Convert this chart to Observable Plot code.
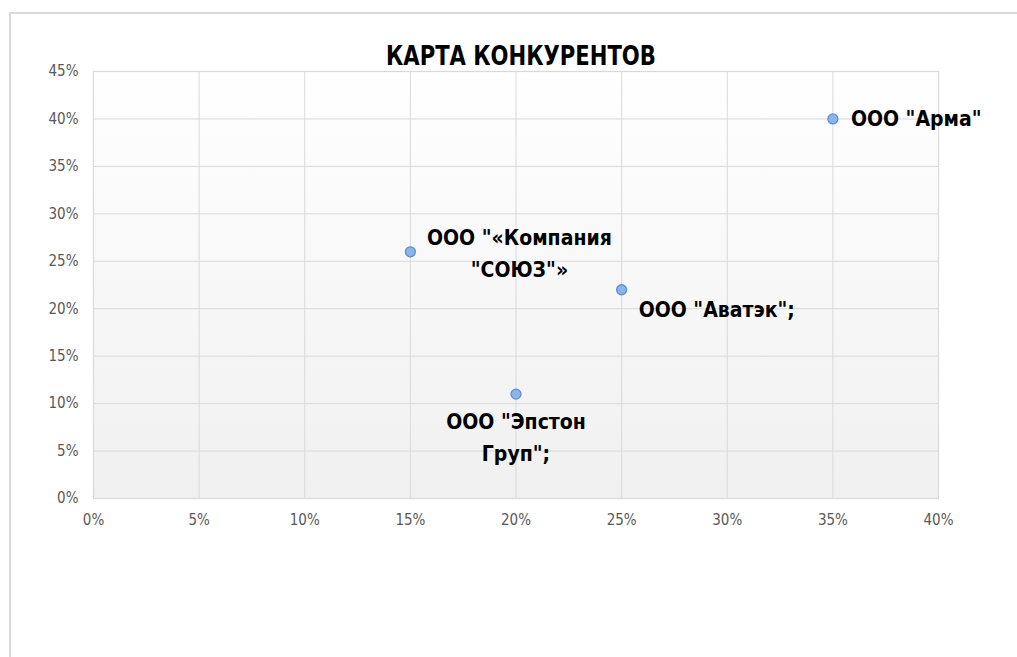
<!DOCTYPE html>
<html><head><meta charset="utf-8">
<script src="https://cdn.jsdelivr.net/npm/d3@7"></script>
<script src="https://cdn.jsdelivr.net/npm/@observablehq/plot@0.6"></script>
<style>
body{margin:0;background:#fff;overflow:hidden;}
#wrap{position:relative;width:1017px;height:657px;overflow:hidden;}
#border{position:absolute;left:9px;top:12px;right:-10px;bottom:-10px;border-left:2px solid #d9d9d9;border-top:2px solid #d9d9d9;}
#title{position:absolute;top:40px;left:0;width:1042px;text-align:center;font:bold 27px "DejaVu Sans Condensed","Liberation Sans Narrow",sans-serif;color:#000;line-height:32px;transform:scaleX(0.87);transform-origin:521px 0;}
#chart{position:absolute;left:0;top:0;}
</style>
</head><body>
<div id="wrap"><div id="border"></div><div id="chart"></div><div id="title">КАРТА КОНКУРЕНТОВ</div></div>
<script>
const names = ['ООО "Арма"', 'ООО "«Компания\n"СОЮЗ"»', 'ООО "Аватэк";', 'ООО "Эпстон\nГруп";'];
const xValues = [0.35, 0.15, 0.25, 0.20];
const yValues = [0.40, 0.26, 0.22, 0.11];
const xTicks = [0, 0.05, 0.10, 0.15, 0.20, 0.25, 0.30, 0.35, 0.40];
const yTicks = [0, 0.05, 0.10, 0.15, 0.20, 0.25, 0.30, 0.35, 0.40, 0.45];

const idx = names.map((_, i) => i);
const fmt = d3.format(".0%");
const font = '"DejaVu Sans Condensed","Liberation Sans Narrow",sans-serif';
const labelOpts = [
  {textAnchor: "start", dx: 18, dy: -3},
  {textAnchor: "middle", dx: 109, dy: -1},
  {textAnchor: "start", dx: 17, dy: 17},
  {textAnchor: "middle", dx: 0, dy: 41}
];

const plot = Plot.plot({
  width: 1017, height: 657,
  marginLeft: 93, marginRight: 79, marginTop: 71, marginBottom: 159,
  style: {fontFamily: font, fontSize: "15px", background: "transparent", overflow: "visible"},
  x: {domain: [0, 0.4]},
  y: {domain: [0, 0.45]},
  marks: [
    Plot.frame({fill: "url(#bgGrad)", stroke: "none"}),
    Plot.gridX(xTicks, {stroke: "#d9d9d9", strokeOpacity: 1}),
    Plot.gridY(yTicks, {stroke: "#d9d9d9", strokeOpacity: 1}),
    Plot.frame({stroke: "#d9d9d9", strokeWidth: 1.2}),
    Plot.axisX(xTicks, {tickSize: 0, tickPadding: 16, tickFormat: fmt, fontSize: 15, fill: "#595959"}),
    Plot.axisY(yTicks, {tickSize: 0, tickPadding: 15, tickFormat: fmt, fontSize: 15, fill: "#595959"}),
    Plot.dot(idx, {x: i => xValues[i], y: i => yValues[i], r: 5, fill: "#8db4e8", stroke: "#5b8fd6", strokeWidth: 1.3}),
    ...idx.map(k => Plot.text([k], {
      x: i => xValues[i], y: i => yValues[i], text: i => names[i],
      fontSize: 21, fontWeight: "bold", fill: "#000", lineHeight: 1.5,
      lineAnchor: "middle", ...labelOpts[k]
    }))
  ]
});
const ns = "http://www.w3.org/2000/svg";
const defs = document.createElementNS(ns, "defs");
defs.innerHTML = '<linearGradient id="bgGrad" x1="0" y1="0" x2="0" y2="1"><stop offset="0" stop-color="#ffffff"/><stop offset="1" stop-color="#f0f0f0"/></linearGradient>';
plot.insertBefore(defs, plot.firstChild);
document.getElementById("chart").appendChild(plot);
</script>
</body></html>
